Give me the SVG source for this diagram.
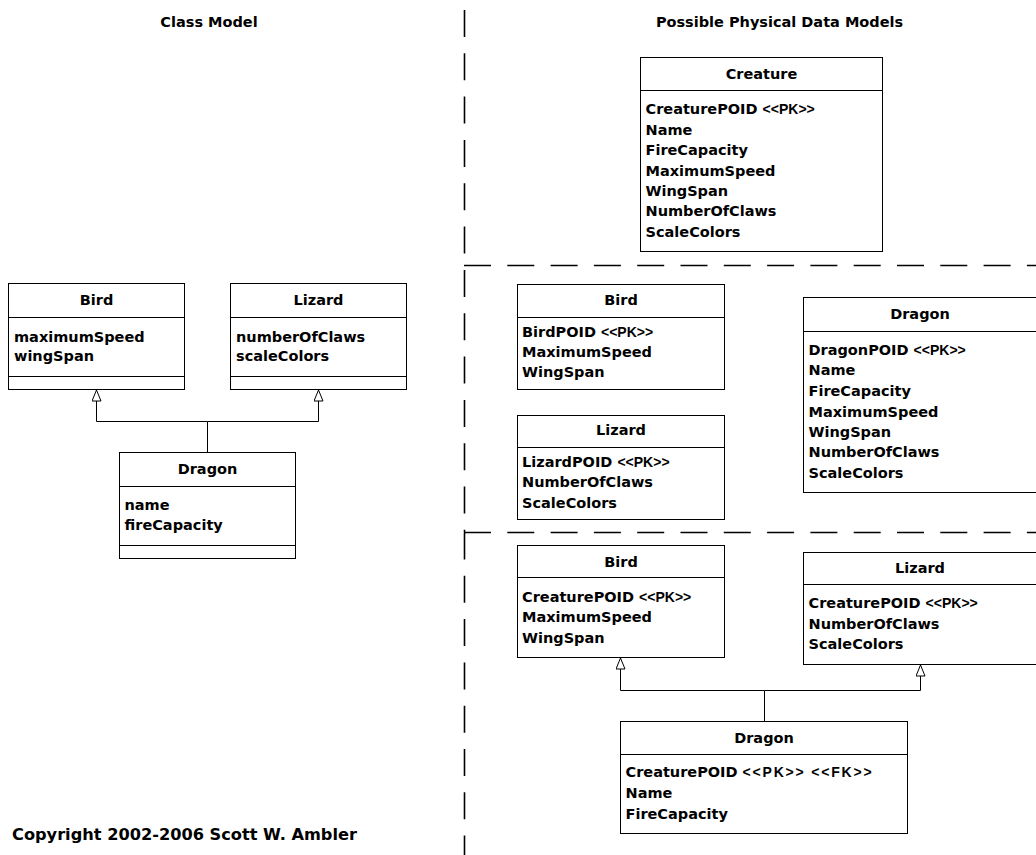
<svg xmlns="http://www.w3.org/2000/svg" width="1036" height="855" viewBox="0 0 1036 855">
  <style>
    .box{fill:#fff;stroke:#000;stroke-width:1}
    .sep{stroke:#000;stroke-width:1}
    text{font-family:"DejaVu Sans","Liberation Sans",sans-serif;font-weight:bold;font-size:14.5px;fill:#000}
    .name{text-anchor:middle}
    .st{font-family:"Liberation Sans",Arial,sans-serif;font-weight:bold;font-size:14px}
    .div{fill:none;stroke:#000;stroke-width:1.6;stroke-dasharray:27 16.3}
    .conn{fill:none;stroke:#000;stroke-width:1}
    .copy{font-size:16.2px}
  </style>
  <defs>
    <marker id="inherit" viewBox="0 0 12 10" refX="12" refY="5" markerWidth="12" markerHeight="10" markerUnits="userSpaceOnUse" orient="auto">
      <path d="M0.5,0.5 L11.5,5 L0.5,9.5 Z" fill="#fff" stroke="#000" stroke-width="1"/>
    </marker>
  </defs>

  <rect width="1036" height="855" fill="#fff"/>

  <!-- section titles -->
  <g id="titles">
    <text class="name" x="209" y="26.5">Class Model</text>
    <text class="name" x="779.5" y="26.5">Possible Physical Data Models</text>
    <text class="copy" x="12" y="840">Copyright 2002-2006 Scott W. Ambler</text>
  </g>

  <!-- dashed section dividers -->
  <g id="dividers">
    <line class="div" x1="464.5" y1="10" x2="464.5" y2="265"/>
    <line class="div" x1="464" y1="265.5" x2="1036" y2="265.5"/>
    <line class="div" x1="464.5" y1="270" x2="464.5" y2="532"/>
    <line class="div" x1="464" y1="532.5" x2="1036" y2="532.5"/>
    <line class="div" x1="464.5" y1="532.5" x2="464.5" y2="855"/>
  </g>

  <!-- generalization connectors -->
  <g id="connectors">
    <path class="conn" d="M207.5,452.5 V421.5 H96.5 V389.5" marker-end="url(#inherit)"/>
    <path class="conn" d="M207.5,421.5 H318.5 V389.5" marker-end="url(#inherit)"/>
    <path class="conn" d="M764.5,721.5 V690.5 H620.5 V657.5" marker-end="url(#inherit)"/>
    <path class="conn" d="M764.5,690.5 H920.5 V664.5" marker-end="url(#inherit)"/>
  </g>

  <!-- class model -->
  <g id="class-bird">
    <rect class="box" x="8.5" y="283.5" width="176" height="106"/>
    <line class="sep" x1="8.5" y1="317.5" x2="184.5" y2="317.5"/>
    <line class="sep" x1="8.5" y1="376.5" x2="184.5" y2="376.5"/>
    <text class="name" x="96.5" y="305">Bird</text>
    <text x="14" y="341.5">maximumSpeed</text>
    <text x="14" y="361">wingSpan</text>
  </g>
  <g id="class-lizard">
    <rect class="box" x="230.5" y="283.5" width="176" height="106"/>
    <line class="sep" x1="230.5" y1="317.5" x2="406.5" y2="317.5"/>
    <line class="sep" x1="230.5" y1="376.5" x2="406.5" y2="376.5"/>
    <text class="name" x="318.5" y="305">Lizard</text>
    <text x="236" y="341.5">numberOfClaws</text>
    <text x="236" y="361">scaleColors</text>
  </g>
  <g id="class-dragon">
    <rect class="box" x="119.5" y="452.5" width="176" height="106"/>
    <line class="sep" x1="119.5" y1="486.5" x2="295.5" y2="486.5"/>
    <line class="sep" x1="119.5" y1="545.5" x2="295.5" y2="545.5"/>
    <text class="name" x="207.5" y="474">Dragon</text>
    <text x="124.5" y="510">name</text>
    <text x="124.5" y="530">fireCapacity</text>
  </g>

  <!-- one table per hierarchy -->
  <g id="table-creature">
    <rect class="box" x="640.5" y="57.5" width="242" height="194"/>
    <line class="sep" x1="640.5" y1="90.5" x2="882.5" y2="90.5"/>
    <text class="name" x="761.5" y="78.5">Creature</text>
    <text x="645.5" y="114">CreaturePOID <tspan class="st">&lt;&lt;PK&gt;&gt;</tspan></text>
    <text x="645.5" y="134.5">Name</text>
    <text x="645.5" y="155">FireCapacity</text>
    <text x="645.5" y="175.5">MaximumSpeed</text>
    <text x="645.5" y="196">WingSpan</text>
    <text x="645.5" y="216">NumberOfClaws</text>
    <text x="645.5" y="236.5">ScaleColors</text>
  </g>

  <!-- one table per concrete class -->
  <g id="table-bird-concrete">
    <rect class="box" x="517.5" y="284.5" width="207" height="105"/>
    <line class="sep" x1="517.5" y1="317.5" x2="724.5" y2="317.5"/>
    <text class="name" x="621" y="304.5">Bird</text>
    <text x="522" y="336.5">BirdPOID <tspan class="st">&lt;&lt;PK&gt;&gt;</tspan></text>
    <text x="522" y="356.5">MaximumSpeed</text>
    <text x="522" y="377">WingSpan</text>
  </g>
  <g id="table-lizard-concrete">
    <rect class="box" x="517.5" y="415.5" width="207" height="104"/>
    <line class="sep" x1="517.5" y1="447.5" x2="724.5" y2="447.5"/>
    <text class="name" x="621" y="435">Lizard</text>
    <text x="522" y="467">LizardPOID <tspan class="st">&lt;&lt;PK&gt;&gt;</tspan></text>
    <text x="522" y="487">NumberOfClaws</text>
    <text x="522" y="507.5">ScaleColors</text>
  </g>
  <g id="table-dragon-concrete">
    <rect class="box" x="803.5" y="297.5" width="234" height="195"/>
    <line class="sep" x1="803.5" y1="331.5" x2="1037.5" y2="331.5"/>
    <text class="name" x="920" y="319">Dragon</text>
    <text x="808.5" y="354.5">DragonPOID <tspan class="st">&lt;&lt;PK&gt;&gt;</tspan></text>
    <text x="808.5" y="375">Name</text>
    <text x="808.5" y="395.5">FireCapacity</text>
    <text x="808.5" y="416.5">MaximumSpeed</text>
    <text x="808.5" y="437">WingSpan</text>
    <text x="808.5" y="457">NumberOfClaws</text>
    <text x="808.5" y="478">ScaleColors</text>
  </g>

  <!-- one table per class -->
  <g id="table-bird">
    <rect class="box" x="517.5" y="545.5" width="207" height="112"/>
    <line class="sep" x1="517.5" y1="577.5" x2="724.5" y2="577.5"/>
    <text class="name" x="621" y="567">Bird</text>
    <text x="522" y="601.5">CreaturePOID <tspan class="st">&lt;&lt;PK&gt;&gt;</tspan></text>
    <text x="522" y="621.5">MaximumSpeed</text>
    <text x="522" y="642.5">WingSpan</text>
  </g>
  <g id="table-lizard">
    <rect class="box" x="803.5" y="552.5" width="234" height="112"/>
    <line class="sep" x1="803.5" y1="584.5" x2="1037.5" y2="584.5"/>
    <text class="name" x="920" y="573">Lizard</text>
    <text x="808.5" y="608">CreaturePOID <tspan class="st">&lt;&lt;PK&gt;&gt;</tspan></text>
    <text x="808.5" y="628.5">NumberOfClaws</text>
    <text x="808.5" y="649">ScaleColors</text>
  </g>
  <g id="table-dragon">
    <rect class="box" x="620.5" y="721.5" width="287" height="112"/>
    <line class="sep" x1="620.5" y1="754.5" x2="907.5" y2="754.5"/>
    <text class="name" x="764" y="743">Dragon</text>
    <text x="625.5" y="777">CreaturePOID <tspan class="st" letter-spacing="1.8">&lt;&lt;PK&gt;&gt; &lt;&lt;FK&gt;&gt;</tspan></text>
    <text x="625.5" y="797.5">Name</text>
    <text x="625.5" y="818.5">FireCapacity</text>
  </g>
</svg>
